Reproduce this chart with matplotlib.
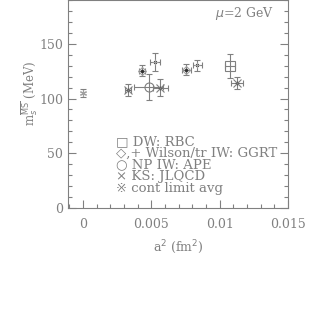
import numpy as np
import matplotlib.pyplot as plt
from matplotlib.ticker import MultipleLocator

# continuum limit average
avg_x = [0.0]
avg_y = [105]
avg_ey = [4]

# DW: RBC
rbc_x = [0.01076]
rbc_y = [129.5]
rbc_ex = [0.00037]
rbc_ey = [11]

# Wilson IW: GGRT (diamonds)
ggrt_x = [0.00431, 0.00757]
ggrt_y = [125.5, 126.5]
ggrt_ex = [0.00022, 0.0003]
ggrt_ey = [5, 5]

# tr IW: GGRT (plus)
ggrt2_x = [0.00529, 0.00836]
ggrt2_y = [133.5, 130.5]
ggrt2_ex = [0.00038, 0.00033]
ggrt2_ey = [8, 5]

# NP IW: APE
ape_x = [0.0048]
ape_y = [110.5]
ape_ex = [0.00108]
ape_ey = [12]

# KS: JLQCD
jl_x = [0.00329, 0.00564, 0.01125]
jl_y = [108, 110, 114]
jl_ex = [0.0002, 0.00055, 0.00045]
jl_ey = [5.5, 8, 5.5]

legend_lines = ["\u25a1 DW: RBC",
                "\u25c7,+ Wilson/tr IW: GGRT",
                "\u25cb NP IW: APE",
                "\u00d7 KS: JLQCD",
                "\u203b cont limit avg"]

plt.rcParams['font.family'] = ['DejaVu Serif', 'DejaVu Sans']
gray = '#808080'
light = '#a0a0a0'

fig = plt.figure(figsize=(3.09, 3.20), dpi=100)
ax = fig.add_axes([0.220, 0.35, 0.712, 0.65])

eb = dict(ls='none', ecolor=gray, elinewidth=0.8, capsize=2.5, capthick=0.8,
          mfc='none', markeredgewidth=0.8)

ax.errorbar(avg_x, avg_y, yerr=avg_ey, marker=(6, 2, 0), ms=5, mec=light, **eb)
ax.errorbar(rbc_x, rbc_y, xerr=rbc_ex, yerr=rbc_ey, marker='s', ms=7, mec=gray, **eb)
ax.errorbar(ggrt_x, ggrt_y, xerr=ggrt_ex, yerr=ggrt_ey, marker='D', ms=4.5, mec=light, **eb)
ax.errorbar(ggrt2_x, ggrt2_y, xerr=ggrt2_ex, yerr=ggrt2_ey, marker='+', ms=5, mec=light, **eb)
ax.errorbar(ape_x, ape_y, xerr=ape_ex, yerr=ape_ey, marker='o', ms=6.5, mec=gray, **eb)
ax.errorbar(jl_x, jl_y, xerr=jl_ex, yerr=jl_ey, marker='x', ms=6, mec=gray, **eb)
# dark centres
allx = ggrt_x + ggrt2_x + jl_x
ally = ggrt_y + ggrt2_y + jl_y
ax.plot(allx, ally, 'o', ms=1.5, color='#303030', ls='none')

ax.set_xlim(-0.0011, 0.015)
ax.set_ylim(0, 190)
ax.set_xticks([0, 0.005, 0.01, 0.015])
ax.set_xticklabels(['0', '0.005', '0.01', '0.015'])
ax.set_yticks([0, 50, 100, 150])
ax.xaxis.set_minor_locator(MultipleLocator(0.001))
ax.yaxis.set_minor_locator(MultipleLocator(10))
ax.tick_params(which='both', direction='in', colors=gray, labelcolor=gray,
               labelsize=9, left=True, right=True, bottom=True, top=False)
ax.tick_params(which='major', length=6, width=0.8)
ax.tick_params(which='minor', length=3, width=0.8)
ax.tick_params(axis='x', pad=7.5)
ax.tick_params(axis='y', pad=3.5)
for s in ax.spines.values():
    s.set_color(gray)
    s.set_linewidth(0.8)

ax.set_xlabel(r'a$^2$ (fm$^2$)', color=gray, fontsize=9)
ax.xaxis.set_label_coords(0.5, -0.145)
ax.set_ylabel(r'm$_s^{\overline{\rm MS}}$ (MeV)', color=gray, fontsize=8.5)
ax.yaxis.set_label_coords(-0.125, 0.55)

ax.text(0.01397, 178, r'$\mu$=2 GeV', color=gray, fontsize=9, ha='right', va='center')

# legend as one block of text
ax.text(0.00245, 66.5, '\n'.join(legend_lines), color=gray, fontsize=9.5,
        ha='left', va='top', linespacing=0.86)

fig.savefig('out.png', dpi=100)
